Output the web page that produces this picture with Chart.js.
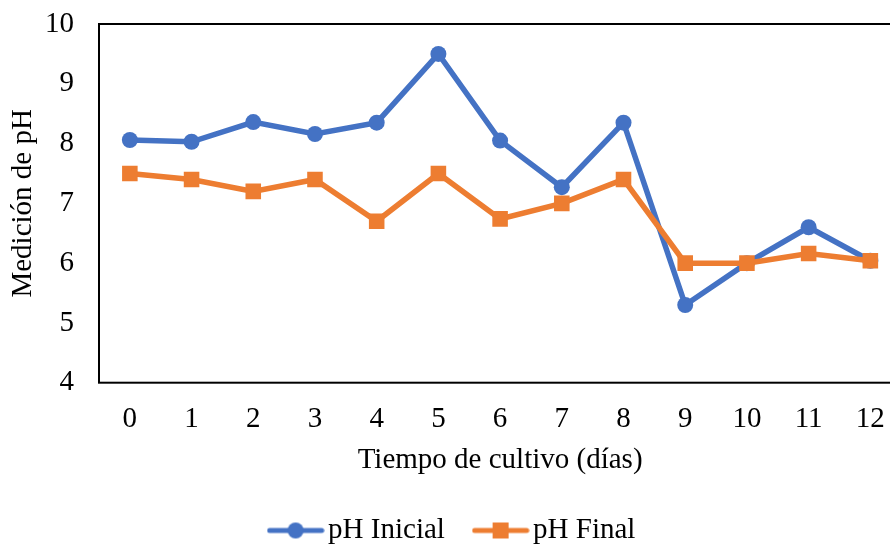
<!DOCTYPE html>
<html>
<head>
<meta charset="utf-8">
<script src="https://cdn.jsdelivr.net/npm/chart.js@4"></script>
<style>
html, body { margin: 0; padding: 0; background: #fff; overflow: hidden; }
#wrap { width: 890px; height: 546px; overflow: hidden; }
</style>
</head>
<body>
<div id="wrap"><canvas id="chart" width="913" height="555"></canvas></div>
<script>
const days = ['0', '1', '2', '3', '4', '5', '6', '7', '8', '9', '10', '11', '12'];
const phInicial = [8.06, 8.03, 8.36, 8.16, 8.35, 9.5, 8.05, 7.27, 8.35, 5.3, 6.0, 6.6, 6.04];
const phFinal = [7.5, 7.4, 7.2, 7.4, 6.7, 7.5, 6.74, 7.0, 7.4, 6.0, 6.0, 6.16, 6.04];

const BLUE = '#4472C4';
const ORANGE = '#ED7D31';

Chart.defaults.font.family = "'Liberation Serif', 'Times New Roman', serif";
Chart.defaults.font.size = 29;
Chart.defaults.color = '#000';

// line + marker swatch, like the spreadsheet legend
function legendMark(color, shape) {
    const c = document.createElement('canvas');
    c.width = 58;
    c.height = 20;
    const g = c.getContext('2d');
    g.strokeStyle = color;
    g.lineWidth = 5;
    g.lineCap = 'round';
    g.beginPath();
    g.moveTo(3, 10);
    g.lineTo(55, 10);
    g.stroke();
    g.fillStyle = color;
    if (shape === 'circle') {
        g.beginPath();
        g.arc(29, 10, 8, 0, Math.PI * 2);
        g.fill();
    } else {
        g.fillRect(21, 2, 16, 16);
    }
    return c;
}

const plotBorder = {
    id: 'plotBorder',
    beforeDatasetsDraw(chart) {
        const {ctx, chartArea: a} = chart;
        ctx.save();
        ctx.strokeStyle = '#000';
        ctx.lineWidth = 2;
        ctx.strokeRect(a.left, a.top, a.right - a.left, a.bottom - a.top);
        ctx.restore();
    }
};

new Chart(document.getElementById('chart'), {
    type: 'line',
    data: {
        labels: days,
        datasets: [{
            label: 'pH Inicial',
            data: phInicial,
            borderColor: BLUE,
            backgroundColor: BLUE,
            borderWidth: 5.5,
            pointStyle: 'circle',
            pointRadius: 8,
            pointBorderWidth: 0,
            tension: 0,
            order: 1,
            swatch: legendMark(BLUE, 'circle')
        }, {
            label: 'pH Final',
            data: phFinal,
            borderColor: ORANGE,
            backgroundColor: ORANGE,
            borderWidth: 5.5,
            pointStyle: 'rect',
            pointRadius: 11,
            pointBorderWidth: 0,
            tension: 0,
            order: 0,
            swatch: legendMark(ORANGE, 'rect')
        }]
    },
    options: {
        responsive: false,
        animation: false,
        devicePixelRatio: 1,
        layout: { padding: { top: 24, right: 0, bottom: 0, left: 0 } },
        plugins: {
            tooltip: { enabled: false },
            legend: {
                position: 'bottom',
                labels: {
                    usePointStyle: true,
                    pointStyleWidth: 36,
                    padding: 37.7,
                    generateLabels: (chart) => chart.data.datasets.map((ds, i) => ({
                        text: ds.label,
                        pointStyle: ds.swatch,
                        fillStyle: ds.borderColor,
                        strokeStyle: ds.borderColor,
                        lineWidth: 0,
                        hidden: false,
                        datasetIndex: i,
                        fontColor: '#000'
                    }))
                }
            }
        },
        scales: {
            x: {
                type: 'category',
                offset: true,
                grid: { display: false, drawTicks: false },
                border: { display: false },
                ticks: { padding: 19.5, maxRotation: 0, autoSkip: false },
                title: {
                    display: true,
                    text: 'Tiempo de cultivo (días)',
                    padding: { top: 0, bottom: 0.2 }
                },
                afterFit: (scale) => { scale.height = 95.6; }
            },
            y: {
                min: 4,
                max: 10,
                grid: { display: false, drawTicks: true, tickLength: 25 },
                border: { display: false },
                ticks: { stepSize: 1, padding: 0 },
                title: {
                    display: true,
                    text: 'Medición de pH',
                    padding: { top: 5.6, bottom: 0 }
                },
                afterFit: (scale) => { scale.width = 99; }
            },
            pad: {
                position: 'right',
                display: true,
                grid: { display: false, drawTicks: false },
                border: { display: false },
                ticks: { display: false },
                afterFit: (scale) => { scale.width = 11.8; }
            }
        }
    },
    plugins: [plotBorder]
});
</script>
</body>
</html>
